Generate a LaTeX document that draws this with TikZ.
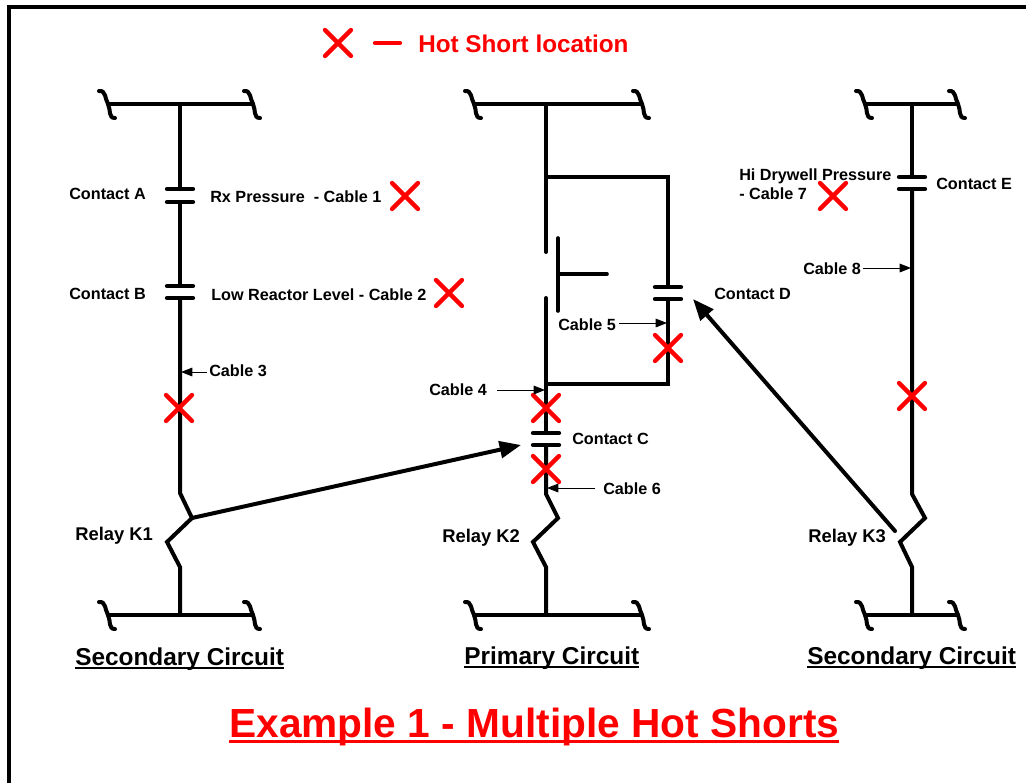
\documentclass[tikz,border=0pt]{standalone}
\usepackage{fontspec}
\setmainfont{Liberation Sans}
\usetikzlibrary{arrows.meta}
\newcommand\ulin[3]{\setbox0=\hbox{#3}\copy0\kern-\wd0\rule[#1]{\wd0}{#2}}
\tikzset{
  wire/.style={line width=3pt,line cap=round,line join=miter,black},
  frameline/.style={line width=3.4pt,black},
  thinwire/.style={line width=2.7pt,line cap=round,black},
  plate/.style={line width=3.2pt,line cap=round,black},
  redx/.style={line width=3.2pt,line cap=round,red},
  bigarrow/.style={line width=3pt,black,-{Triangle[length=16pt,width=12.5pt]}},
  smallarrow/.style={line width=0.75pt,black,-{Triangle[length=8.5pt,width=6.5pt]}},
  lab/.style={font=\fontsize{12.15pt}{14.6pt}\selectfont\bfseries,inner sep=0pt,anchor=west,align=left},
  relaylab/.style={lab,font=\fontsize{13.8pt}{16pt}\selectfont\bfseries},
  head/.style={font=\fontsize{18.3pt}{22pt}\selectfont\bfseries,inner sep=0pt,anchor=base west},
  titlelab/.style={font=\fontsize{30.5pt}{36pt}\selectfont\bfseries,inner sep=0pt,anchor=base west,red},
  squig/.pic={\draw[wire] (-9,-13) .. controls (-2,-14) and (-3,-5) .. (0,0) .. controls (3,6) and (0,14) .. (7,14);},
  xmark/.pic={\draw[redx] (-13,-13) -- (13,13) (-13,13) -- (13,-13);},
  cplate/.pic={\draw[plate] (-13,0) -- (13,0);}
}
\begin{document}
\begin{tikzpicture}[x=0.75pt,y=-0.75pt]
\useasboundingbox (0,0) rectangle (1026,783);
\fill[white] (0,0) rectangle (1026,783);
\draw[frameline] (9,783) -- (9,7) -- (1026,7);

% legend
\pic at (338,43) {xmark};
\coordinate (dashL) at (375,43); \coordinate (dashR) at (400,43);
\draw[redx] (dashL) -- (dashR);
\node[lab,red,font=\fontsize{18.2pt}{22pt}\selectfont\bfseries] (legend) at (418,44) {Hot Short location};

% buses
\foreach \l/\r/\c in {108/253/180,474/642/546,865/958/912}{
  \coordinate (tl) at (\l,104); \coordinate (tr) at (\r,104);
  \coordinate (bl) at (\l,615); \coordinate (br) at (\r,615);
  \draw[wire] (tl) -- (tr);
  \draw[wire] (bl) -- (br);
  \pic at (tl) {squig}; \pic at (tr) {squig};
  \pic at (bl) {squig}; \pic at (br) {squig};
}

% circuit 1
\coordinate (a1) at (180,104); \coordinate (a2) at (180,189); \coordinate (a3) at (180,202);
\coordinate (b2) at (180,286); \coordinate (b3) at (180,298);
\coordinate (k1a) at (180,493); \coordinate (k1b) at (192,518); \coordinate (k1c) at (167,542);
\coordinate (k1d) at (180,567); \coordinate (k1e) at (180,615);
\draw[wire] (a1) -- (a2);
\draw[wire] (a3) -- (b2);
\draw[wire] (b3) -- (k1a) -- (k1b) -- (k1c) -- (k1d) -- (k1e);
\pic at (a2) {cplate}; \pic at (a3) {cplate};
\pic at (b2) {cplate}; \pic at (b3) {cplate};

% circuit 2
\coordinate (c1) at (546,104); \coordinate (c2) at (546,252); \coordinate (c3) at (546,298);
\coordinate (cC1) at (546,433); \coordinate (cC2) at (546,445);
\coordinate (k2a) at (546,494); \coordinate (k2b) at (558,518); \coordinate (k2c) at (533,542);
\coordinate (k2d) at (546,567); \coordinate (k2e) at (546,615);
\coordinate (p1) at (546,177); \coordinate (p2) at (668,177); \coordinate (dT) at (668,287);
\coordinate (dB) at (668,299); \coordinate (p3) at (668,384); \coordinate (p4) at (546,384);
\draw[wire] (c1) -- (c2);
\draw[wire] (c3) -- (cC1);
\draw[wire] (cC2) -- (k2a) -- (k2b) -- (k2c) -- (k2d) -- (k2e);
\draw[wire,line cap=butt] (p1) -- (p2) -- (dT);
\draw[wire,line cap=butt] (dB) -- (p3) -- (p4);
\pic at (cC1) {cplate}; \pic at (cC2) {cplate};
\pic at (dT) {cplate}; \pic at (dB) {cplate};
\coordinate (nc1) at (558,238); \coordinate (nc2) at (558,311);
\coordinate (nc3) at (558,274); \coordinate (nc4) at (607,274);
\draw[thinwire] (nc1) -- (nc2);
\draw[thinwire] (nc3) -- (nc4);

% circuit 3
\coordinate (e1) at (912,104); \coordinate (e2) at (912,177); \coordinate (e3) at (912,189);
\coordinate (k3a) at (912,494); \coordinate (k3b) at (925,518); \coordinate (k3c) at (900,542);
\coordinate (k3d) at (912,567); \coordinate (k3e) at (912,615);
\draw[wire] (e1) -- (e2);
\draw[wire] (e3) -- (k3a) -- (k3b) -- (k3c) -- (k3d) -- (k3e);
\pic at (e2) {cplate}; \pic at (e3) {cplate};

% actuation arrows
\coordinate (tipC) at (521,445); \coordinate (armK3) at (895,531); \coordinate (tipD) at (693,299);
\draw[bigarrow] (k1b) -- (tipC);
\draw[bigarrow,line cap=round] (armK3) -- (tipD);

% hot short marks
\pic at (405,196) {xmark};
\pic at (449,293) {xmark};
\pic at (179,408) {xmark};
\pic at (668,348) {xmark};
\pic at (546,408) {xmark};
\pic at (546,469) {xmark};
\pic at (912,396) {xmark};
\pic at (833,196) {xmark};

% labels
\node[lab] (lA) at (69,194) {Contact A};
\node[lab] (lRx) at (210,197) {Rx Pressure\ \ - Cable 1};
\node[lab] (lB) at (69,294) {Contact B};
\node[lab] (lLow) at (211,295) {Low Reactor Level - Cable 2};
\node[lab] (l3) at (209,371) {Cable 3};
\node[lab] (lD) at (714,294) {Contact D};
\node[lab] (l5) at (558,325) {Cable 5};
\node[lab] (l4) at (429,390) {Cable 4};
\node[lab] (lC) at (572,439) {Contact C};
\node[lab] (l6) at (603,489) {Cable 6};
\node[relaylab] (lK1) at (75,536) {Relay K1};
\node[relaylab] (lK2) at (442,538) {Relay K2};
\node[relaylab] (lK3) at (808,538) {Relay K3};
\node[lab] (lHi) at (739,184) {Hi Drywell Pressure\\- Cable 7};
\node[lab] (lE) at (936,184) {Contact E};
\node[lab] (l8) at (803,269) {Cable 8};

% cable pointers
\coordinate (w3s) at (207,372); \coordinate (w3) at (181,372);
\coordinate (w4s) at (497,390); \coordinate (w4) at (545,390);
\coordinate (w5s) at (619,323); \coordinate (w5) at (667,323);
\coordinate (w6s) at (595,488); \coordinate (w6) at (547,488);
\coordinate (w8s) at (863,268); \coordinate (w8) at (911,268);
\draw[smallarrow] (w3s) -- (w3);
\draw[smallarrow] (w4s) -- (w4);
\draw[smallarrow] (w5s) -- (w5);
\draw[smallarrow] (w6s) -- (w6);
\draw[smallarrow] (w8s) -- (w8);

% headings
\node[head] (s1) at (75,665) {\ulin{-3pt}{1.6pt}{Secondary Circuit}};
\node[head] (s2) at (464,664) {\ulin{-3pt}{1.6pt}{Primary Circuit}};
\node[head] (s3) at (807,664) {\ulin{-3pt}{1.6pt}{Secondary Circuit}};
\node[titlelab] (title) at (229,737.5) {\ulin{-4.4pt}{2.6pt}{Example 1 - Multiple Hot Shorts}};
\end{tikzpicture}
\end{document}
